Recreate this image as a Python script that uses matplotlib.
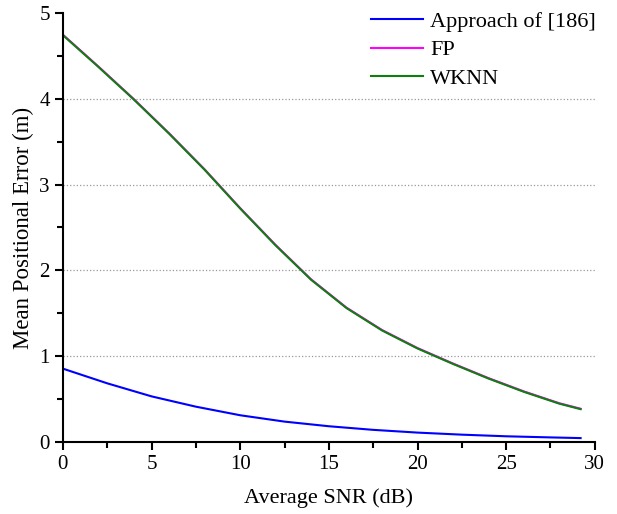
import numpy as np
import matplotlib
matplotlib.use("Agg")
import matplotlib.pyplot as plt
from matplotlib.ticker import MultipleLocator

plt.rcParams['font.family'] = ['Liberation Serif', 'DejaVu Serif']

# values
snr = [0, 2, 4, 6, 8, 10, 12, 14, 16, 18, 20, 22, 24, 26, 28, 29.2]
wknn = [4.74, 4.37, 3.99, 3.59, 3.17, 2.72, 2.29, 1.89, 1.56, 1.30, 1.09, 0.91, 0.74, 0.585, 0.447, 0.383]
fp = [4.745, 4.375, 3.995, 3.595, 3.175, 2.725, 2.295, 1.895, 1.565, 1.305, 1.095, 0.915, 0.745, 0.59, 0.452, 0.388]

snr_blue = [0, 2.5, 5, 7.5, 10, 12.5, 15, 17.5, 20, 22.5, 25, 27.5, 29.2]
approach = [0.855, 0.684, 0.532, 0.412, 0.312, 0.238, 0.184, 0.142, 0.11, 0.086, 0.067, 0.054, 0.046]

fig = plt.figure(figsize=(6.17, 5.14), dpi=100)
ax = fig.add_axes([0.102, 0.14, 0.862, 0.835])

ax.plot(snr_blue, approach, color='#0000ff', lw=1.5, label='Approach of [186]')
ax.plot(snr, fp, color='#ff00ff', lw=1.5, label='FP')
ax.plot(snr, wknn, color='#0e7f0e', lw=1.5, label='WKNN')

ax.set_xlim(0, 30)
ax.set_ylim(0, 5)
ax.set_xticks(range(0, 31, 5))
ax.set_yticks(range(0, 6))
ax.xaxis.set_minor_locator(MultipleLocator(2.5))
ax.yaxis.set_minor_locator(MultipleLocator(0.5))

ax.spines['top'].set_visible(False)
ax.spines['right'].set_visible(False)
ax.spines['left'].set_linewidth(1.5)
ax.spines['bottom'].set_linewidth(1.5)
ax.tick_params(which='major', direction='out', length=6, width=1.5, labelsize=15)
ax.tick_params(which='minor', direction='out', length=4, width=1.5)

ax.yaxis.grid(True, linestyle=':', color='#999999', lw=0.9)
gl = ax.get_ygridlines()
gl[0].set_visible(False)
gl[-1].set_visible(False)

ax.set_xlabel('Average SNR (dB)', fontsize=16, labelpad=10)
ax.set_ylabel('Mean Positional Error (m)', fontsize=16.5, labelpad=4)

ax.legend(loc='upper right', bbox_to_anchor=(1.04, 1.05), frameon=False,
          fontsize=16, handlelength=2.3, handletextpad=0.35, labelspacing=0.35)

fig.savefig('out.png', dpi=100)
